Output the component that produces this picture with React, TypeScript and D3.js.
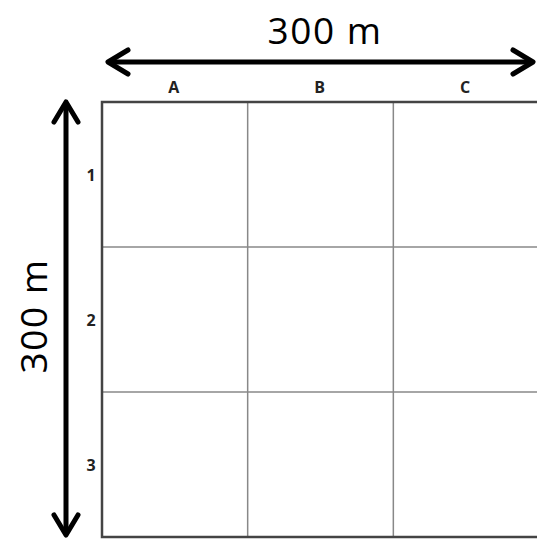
import React from 'react';
import * as d3 from 'd3';

const columns = ['A', 'B', 'C'];
const rows = ['1', '2', '3'];
const widthLabel = '300 m';
const heightLabel = '300 m';

const App = () => {
  const left = 102, top = 102, w = 437, h = 435;
  const x = d3.scaleBand().domain(columns).range([left, left + w]);
  const y = d3.scaleBand().domain(rows).range([top, top + h]);
  const font = '"Open Sans", sans-serif';

  // arrow geometry
  const ay = 62, ax1 = 108, ax2 = 533;
  const vx = 66, vy1 = 102, vy2 = 535;
  const head = 20;

  return (
    <svg width={537} height={539} style={{ position: 'absolute', left: 0, top: 0 }}>
      <rect width={537} height={539} fill="#fff" />
      {/* inner grid lines */}
      {columns.slice(1).map(c => (
        <line key={c} x1={x(c)} x2={x(c)} y1={top} y2={top + h} stroke="#888" strokeWidth={1.5} />
      ))}
      {rows.slice(1).map(r => (
        <line key={r} x1={left} x2={left + w} y1={y(r)} y2={y(r)} stroke="#888" strokeWidth={1.5} />
      ))}
      <rect x={left} y={top} width={w} height={h} fill="none" stroke="#444" strokeWidth={2.5} />

      {columns.map(c => (
        <text key={c} x={(x(c) as number) + x.bandwidth() / 2 - 1} y={93} textAnchor="middle"
          fontFamily={font} fontWeight="bold" fontSize={16} fill="#222">{c}</text>
      ))}
      {rows.map(r => (
        <text key={r} x={91} y={(y(r) as number) + y.bandwidth() / 2 + 6} textAnchor="middle"
          fontFamily={font} fontWeight="bold" fontSize={16} fill="#222">{r}</text>
      ))}

      <g stroke="#000" strokeWidth={5} strokeLinecap="round" strokeLinejoin="round" fill="none">
        <line x1={ax1 + 2} x2={ax2 - 2} y1={ay} y2={ay} />
        <polyline points={`${ax1 + head},${ay - 12} ${ax1},${ay} ${ax1 + head},${ay + 12}`} />
        <polyline points={`${ax2 - head},${ay - 12} ${ax2},${ay} ${ax2 - head},${ay + 12}`} />
        <line x1={vx} x2={vx} y1={vy1 + 2} y2={vy2 - 2} />
        <polyline points={`${vx - 12},${vy1 + head} ${vx},${vy1} ${vx + 12},${vy1 + head}`} />
        <polyline points={`${vx - 12},${vy2 - head} ${vx},${vy2} ${vx + 12},${vy2 - head}`} />
      </g>

      <text x={325} y={44} textAnchor="middle" fontFamily={font} fontSize={37} letterSpacing={1.5} fill="#000">{widthLabel}</text>
      <text transform={`translate(47,316) rotate(-90)`} textAnchor="middle" fontFamily={font} fontSize={37} letterSpacing={1.5} fill="#000">{heightLabel}</text>
    </svg>
  );
};

export default App;
